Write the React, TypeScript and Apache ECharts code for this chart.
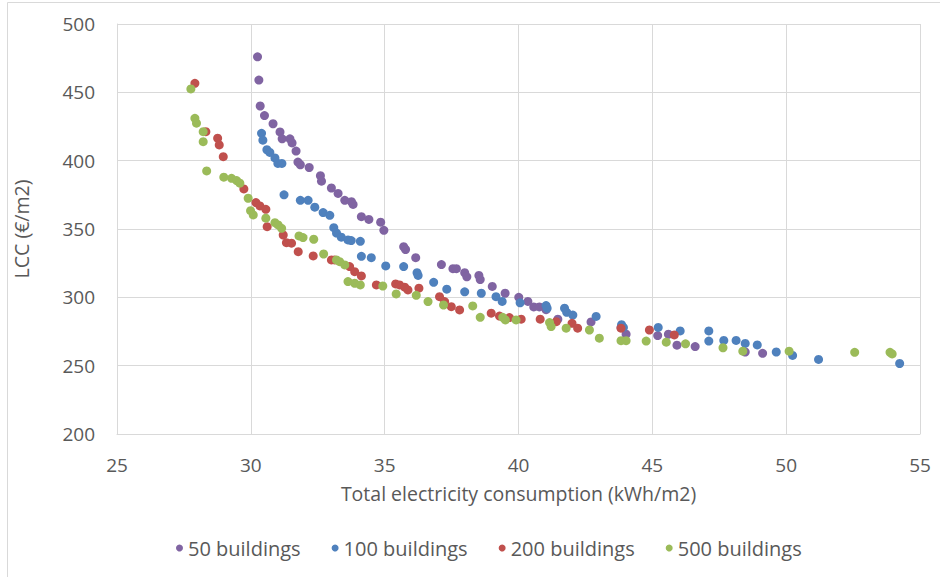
import React, { useEffect, useRef } from "react";
import * as echarts from "echarts";

const seriesNames = ["50 buildings", "100 buildings", "200 buildings", "500 buildings"];
const seriesColors = ["#8064A2", "#4F81BD", "#C0504D", "#9BBB59"];

const xTicks = { min: 25, max: 55, interval: 5 };
const yTicks = { min: 200, max: 500, interval: 50 };

const buildings50: number[][] = [
  [30.25, 476], [30.3, 459], [30.35, 440], [30.51, 433], [30.83, 427], [31.09, 421], [31.17, 416], [31.46, 416],
  [31.54, 413], [31.69, 407], [31.76, 399], [31.85, 397], [32.18, 395], [32.6, 389], [32.64, 385], [33.01, 380],
  [33.26, 376], [33.51, 371], [33.76, 370], [33.82, 368], [34.13, 359], [34.41, 357], [34.85, 355], [34.97, 349],
  [35.71, 337], [35.78, 335], [36.16, 329], [37.12, 324], [37.55, 321], [37.68, 321], [37.99, 318], [38.07, 315],
  [38.52, 316], [38.57, 313], [39.02, 308], [39.5, 303], [40.01, 300], [40.35, 297], [40.57, 293], [40.78, 293],
  [41.03, 291], [41.47, 284], [42.71, 282], [43.83, 278], [44.02, 273], [45.2, 272], [45.6, 273], [45.92, 265],
  [46.6, 264], [48.47, 260], [49.12, 259],
];

const buildings100: number[][] = [
  [30.4, 420], [30.45, 415], [30.6, 408], [30.71, 406], [30.9, 402], [31.01, 398], [31.16, 398], [31.24, 375],
  [31.85, 371], [32.14, 371], [32.39, 366], [32.7, 362], [32.95, 360], [33.1, 351], [33.2, 347], [33.38, 344],
  [33.63, 342], [33.75, 341.5], [34.09, 341], [34.13, 330], [34.5, 329], [35.04, 323], [35.71, 322.5], [36.21, 318],
  [36.25, 316], [36.83, 311], [37.32, 306], [37.99, 304], [38.61, 303], [39.16, 300.5], [39.39, 297], [40.06, 296],
  [41.03, 294], [41.07, 292], [41.72, 292], [41.8, 289], [42.03, 287], [42.9, 286], [43.85, 280], [43.92, 278],
  [45.22, 278], [46.04, 275.4], [47.11, 275.4], [47.11, 268], [47.67, 268.5], [48.13, 268.5], [48.47, 266.3],
  [48.92, 265.2], [49.63, 260], [50.24, 257.5], [51.21, 254.6], [54.24, 251.6],
];

const buildings200: number[][] = [
  [27.91, 456.6], [28.32, 421.2], [28.76, 416.4], [28.82, 411.5], [28.97, 402.9], [29.74, 379.3], [30.19, 369.3],
  [30.34, 366.9], [30.56, 364.4], [30.61, 351.7], [31.21, 345.6], [31.33, 340], [31.52, 339.6], [31.77, 333.4],
  [32.33, 330.3], [33.01, 327.4], [33.13, 327.4], [33.69, 322.5], [33.88, 318.8], [34.13, 315.7], [34.69, 309.1],
  [35.41, 309.8], [35.56, 309.1], [35.75, 307.4], [35.87, 305.4], [36.28, 306.7], [37.05, 300.5], [37.24, 296.9],
  [37.49, 293.2], [37.8, 290.8], [38.98, 288.4], [39.29, 286.3], [39.66, 285.2], [40.1, 284], [40.81, 284],
  [41.41, 282.2], [42.0, 281], [42.21, 277.4], [43.83, 277.4], [44.89, 276.1], [45.82, 272.5],
];

const buildings500: number[][] = [
  [27.76, 452.5], [27.91, 431], [27.97, 427.4], [28.22, 421.2], [28.22, 413.9], [28.35, 392.5], [28.99, 387.9],
  [29.28, 387.1], [29.47, 385.4], [29.59, 383.5], [29.9, 372.5], [29.99, 363.4], [30.09, 360.3], [30.56, 357.9],
  [30.9, 354.6], [31.02, 353], [31.15, 350.5], [31.8, 344.9], [31.95, 343.7], [32.35, 342.5], [32.72, 331.7],
  [33.2, 327.4], [33.32, 326.1], [33.51, 323.7], [33.63, 311.5], [33.88, 310.3], [34.09, 309.1], [34.93, 308.3],
  [35.43, 302.5], [36.18, 301.5], [36.62, 296.9], [37.2, 294.4], [38.29, 293.7], [38.57, 285.4], [39.41, 285.4],
  [39.51, 283.5], [39.91, 283.5], [41.16, 281.5], [41.22, 278.6], [41.78, 277.4], [42.65, 276.1], [43.02, 270.1],
  [43.83, 268.3], [44.02, 268.3], [44.77, 268], [45.52, 267.2], [46.24, 266], [47.64, 263.1], [48.38, 260.6],
  [50.11, 260.6], [52.56, 259.8], [53.88, 259.8], [53.96, 258.6],
];

const allData = [buildings50, buildings100, buildings200, buildings500];

const FONT = "'Open Sans', 'Noto Sans', sans-serif";
const TXT = "#595959";
const FS = 19;

export default function App() {
  const ref = useRef<HTMLDivElement>(null);
  useEffect(() => {
    document.body.style.margin = "0";
    const chart = echarts.init(ref.current!, undefined, { renderer: "svg" });
    chart.setOption({
      animation: false,
      backgroundColor: "#ffffff",
      textStyle: { fontFamily: FONT },
      graphic: [
        {
          type: "rect",
          shape: { x: 7.5, y: 2.5, width: 960, height: 600 },
          style: { fill: "none", stroke: "#D9D9D9", lineWidth: 1 },
          silent: true,
        },
      ],
      grid: { left: 117, right: 20, top: 24, bottom: 143, containLabel: false },
      xAxis: {
        type: "value",
        min: xTicks.min,
        max: xTicks.max,
        interval: xTicks.interval,
        name: "Total electricity consumption (kWh/m2)",
        nameLocation: "middle",
        nameGap: 49,
        nameTextStyle: { color: TXT, fontSize: 19.5, fontFamily: FONT },
        axisLine: { show: true, lineStyle: { color: "#D9D9D9" } },
        axisTick: { show: false },
        axisLabel: { color: TXT, fontSize: FS, margin: 21, fontFamily: FONT },
        splitLine: { show: true, lineStyle: { color: "#D9D9D9", width: 1 } },
      },
      yAxis: {
        type: "value",
        min: yTicks.min,
        max: yTicks.max,
        interval: yTicks.interval,
        name: "LCC (€/m2)",
        nameLocation: "middle",
        nameGap: 86,
        nameRotate: 90,
        nameTextStyle: { color: TXT, fontSize: 19.5, fontFamily: FONT },
        axisLine: { show: true, lineStyle: { color: "#D9D9D9" } },
        axisTick: { show: false },
        axisLabel: { color: TXT, fontSize: FS, margin: 22, fontFamily: FONT },
        splitLine: { show: true, lineStyle: { color: "#D9D9D9", width: 1 } },
      },
      legend: {
        bottom: 14,
        left: 171,
        icon: "circle",
        itemWidth: 7,
        itemHeight: 7,
        itemGap: 31,
        textStyle: { color: TXT, fontSize: 20, fontFamily: FONT },
        data: seriesNames,
      },
      series: seriesNames.map((name, i) => ({
        name,
        type: "scatter",
        data: allData[i],
        symbol: "circle",
        symbolSize: 9,
        itemStyle: { color: seriesColors[i], opacity: 1 },
      })),
    });
    return () => chart.dispose();
  }, []);
  return <div ref={ref} style={{ width: 940, height: 577 }} />;
}
